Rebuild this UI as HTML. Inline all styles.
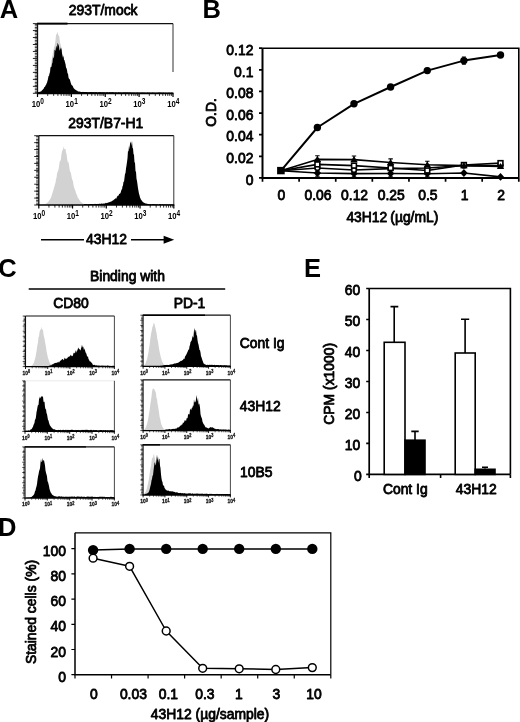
<!DOCTYPE html>
<html><head><meta charset="utf-8"><title>Figure</title>
<style>
html,body{margin:0;padding:0;background:#fff}
body{width:520px;height:722px;overflow:hidden}
svg{display:block;will-change:transform}
text{font-family:"Liberation Sans",sans-serif;fill:#000}
.t text{stroke:#000;stroke-width:0.8px;stroke-linejoin:round}
.b{font-weight:bold}
</style></head><body>
<svg width="520" height="722" viewBox="0 0 520 722">
<rect width="520" height="722" fill="#fff"/>

<g class="b">
<text x="-0.2" y="17.5" font-size="25.5" font-weight="bold">A</text>
<text x="202.4" y="17.5" font-size="25.5" font-weight="bold">B</text>
<text x="-1.7" y="276.8" font-size="25.5" font-weight="bold">C</text>
<text x="-1.9" y="535.8" font-size="25.5" font-weight="bold">D</text>
<text x="304.0" y="276.9" font-size="25.5" font-weight="bold">E</text>
</g>
<g class="t">
<text x="103.2" y="15.0" font-size="13.9" text-anchor="middle" font-weight="normal" >293T/mock</text>
<text x="105.8" y="128" font-size="13.9" text-anchor="middle" font-weight="normal" >293T/B7-H1</text>
<text x="106.5" y="244.3" font-size="13.9" text-anchor="middle" font-weight="normal" >43H12</text>
</g>
<path d="M41,239.7H84" stroke="#000" stroke-width="1.5"/>
<path d="M131,239.7H166" stroke="#000" stroke-width="1.5"/>
<path d="M174.2,239.7L163.6,235.7L163.6,243.7Z" fill="#000"/>
<path d="M38.0,93.3L38.0,93.1L38.5,93.0L39.0,92.9L39.5,92.8L40.0,92.6L40.5,92.5L41.0,92.3L41.5,91.9L42.0,91.7L42.5,91.2L43.0,90.8L43.5,90.2L44.0,89.4L44.5,88.4L45.0,87.8L45.5,86.7L46.0,85.1L46.5,83.4L47.0,82.1L47.5,80.6L48.0,77.8L48.5,77.2L49.0,73.5L49.5,72.2L50.0,70.1L50.5,67.6L51.0,64.4L51.5,60.1L52.0,59.4L52.5,55.2L53.0,52.2L53.5,50.5L54.0,47.0L54.5,46.5L55.0,43.7L55.5,40.2L56.0,35.0L56.5,34.3L57.0,33.7L57.5,31.8L58.0,33.4L58.5,35.9L59.0,35.2L59.5,38.2L60.0,43.0L60.5,43.8L61.0,46.4L61.5,47.3L62.0,50.4L62.5,54.7L63.0,54.6L63.5,60.3L64.0,61.8L64.5,63.4L65.0,67.6L65.5,69.2L66.0,72.6L66.5,73.5L67.0,75.5L67.5,77.9L68.0,79.3L68.5,81.8L69.0,82.9L69.5,84.4L70.0,85.7L70.5,86.9L71.0,87.7L71.5,88.5L72.0,89.5L72.5,90.1L73.0,90.8L73.5,91.1L74.0,91.5L74.5,91.8L75.0,92.1L75.5,92.4L76.0,92.6L76.5,92.7L77.0,92.9L77.5,93.0L78.0,93.0L78.5,93.1L79.0,93.1L79.5,93.2L80.0,93.2L80.5,93.2L81.0,93.2L81.5,93.3L82.0,93.3L82.5,93.3L83.0,93.3L83.5,93.3L84.0,93.3L84.0,93.3Z" fill="#d2d2d2"/>
<path d="M38.0,93.3L38.0,92.3L38.5,92.2L39.0,91.7L39.5,92.0L40.0,91.8L40.5,91.4L41.0,91.4L41.5,90.9L42.0,90.2L42.5,89.9L43.0,89.3L43.5,89.0L44.0,87.8L44.5,87.1L45.0,86.7L45.5,85.5L46.0,85.1L46.5,83.7L47.0,82.8L47.5,81.1L48.0,79.2L48.5,76.0L49.0,76.3L49.5,73.8L50.0,72.4L50.5,67.3L51.0,67.3L51.5,66.8L52.0,63.8L52.5,62.6L53.0,56.1L53.5,58.6L54.0,57.5L54.5,49.7L55.0,50.1L55.5,50.9L56.0,46.7L56.5,45.7L57.0,48.9L57.5,42.7L58.0,43.9L58.5,44.7L59.0,46.6L59.5,50.8L60.0,49.6L60.5,47.3L61.0,50.1L61.5,47.8L62.0,53.7L62.5,56.1L63.0,57.7L63.5,55.4L64.0,59.7L64.5,60.2L65.0,62.6L65.5,64.1L66.0,67.6L66.5,68.3L67.0,70.0L67.5,73.4L68.0,73.4L68.5,77.4L69.0,78.7L69.5,79.0L70.0,80.0L70.5,81.9L71.0,83.4L71.5,84.9L72.0,85.2L72.5,85.8L73.0,86.6L73.5,88.1L74.0,88.6L74.5,89.0L75.0,89.6L75.5,89.7L76.0,90.2L76.5,90.4L77.0,90.6L77.5,91.0L78.0,91.4L78.5,91.6L79.0,91.6L79.5,91.5L80.0,91.8L80.5,91.8L81.0,92.0L81.5,92.0L82.0,91.9L82.5,91.9L83.0,91.8L83.5,92.0L84.0,92.0L84.5,92.1L85.0,92.1L85.5,91.9L86.0,91.9L86.5,92.1L87.0,91.9L87.5,92.3L88.0,92.3L88.5,92.3L89.0,92.0L89.5,92.2L90.0,92.0L90.5,92.0L91.0,92.2L91.5,92.1L92.0,91.9L92.5,92.2L93.0,92.1L93.5,92.3L94.0,92.1L94.5,92.2L95.0,92.3L95.5,92.1L96.0,92.3L96.5,92.0L97.0,92.2L97.5,92.4L98.0,92.2L98.5,92.2L99.0,92.0L99.5,92.3L100.0,92.1L100.5,92.3L101.0,92.1L101.5,92.4L102.0,92.1L102.5,92.3L103.0,92.3L103.5,92.2L104.0,92.2L104.5,92.2L105.0,92.2L105.5,92.4L106.0,92.4L106.5,92.3L107.0,92.1L107.5,92.2L108.0,92.3L108.5,92.4L109.0,92.2L109.5,92.3L110.0,92.1L110.5,92.2L111.0,92.2L111.5,92.3L112.0,92.2L112.5,92.3L113.0,92.1L113.5,92.3L114.0,92.5L114.5,92.5L115.0,92.3L115.5,92.5L116.0,92.1L116.5,92.4L117.0,92.4L117.5,92.4L118.0,92.4L118.5,92.1L119.0,92.4L119.5,92.3L120.0,92.5L120.5,92.3L121.0,92.4L121.5,92.5L122.0,92.5L122.5,92.5L123.0,92.5L123.5,92.3L124.0,92.3L124.5,92.3L125.0,92.4L125.5,92.2L126.0,92.3L126.5,92.6L127.0,92.2L127.5,92.3L128.0,92.5L128.5,92.4L129.0,92.3L129.5,92.4L130.0,92.3L130.5,92.5L131.0,92.6L131.5,92.6L132.0,92.4L132.5,92.4L133.0,92.4L133.5,92.4L134.0,92.4L134.5,92.4L135.0,92.4L135.5,92.7L136.0,92.4L136.5,92.4L137.0,92.5L137.5,92.5L138.0,92.4L138.5,92.4L139.0,92.7L139.5,92.4L140.0,92.5L140.5,92.7L141.0,92.5L141.5,92.4L142.0,92.5L142.5,92.5L143.0,92.4L143.5,92.4L144.0,92.7L144.5,92.4L145.0,92.6L145.5,92.7L146.0,92.7L146.5,92.7L147.0,92.4L147.5,92.5L148.0,92.4L148.5,92.7L149.0,92.6L149.5,92.8L150.0,92.6L150.5,92.8L151.0,92.7L151.5,92.8L152.0,92.5L152.5,92.5L153.0,92.5L153.5,92.7L154.0,92.4L154.5,92.7L155.0,92.7L155.5,92.8L156.0,92.7L156.5,92.7L157.0,92.7L157.5,92.7L158.0,92.5L158.5,92.6L159.0,92.5L159.5,92.6L160.0,92.6L160.5,92.6L161.0,92.8L161.5,92.5L162.0,92.7L162.5,92.8L163.0,92.5L163.5,92.6L164.0,92.7L164.5,92.8L165.0,92.8L165.5,92.7L166.0,92.6L166.5,92.7L167.0,92.9L167.5,92.8L168.0,92.8L168.5,92.7L169.0,92.6L169.5,92.8L170.0,92.8L170.5,92.9L171.0,92.6L171.5,92.8L172.0,92.6L172.5,92.9L173.0,92.8L173.0,93.3Z" fill="#000"/>
<path d="M37.5,23.6H173" fill="none" stroke="#111" stroke-width="1.2"/>
<path d="M37.0,23.6H67.5" fill="none" stroke="#000" stroke-width="1.9"/>
<path d="M173,23.6V72" fill="none" stroke="#333" stroke-width="1.0"/>
<path d="M37.5,23.6V93.3" fill="none" stroke="#111" stroke-width="1.3"/>
<path d="M36.00,24.1V93.3" fill="none" stroke="#111" stroke-width="2.4" stroke-dasharray="0.7,0.75"/>
<path d="M32.9,93.30H37.5M32.9,86.33H37.5M32.9,79.36H37.5M32.9,72.39H37.5M32.9,65.42H37.5M32.9,58.45H37.5M32.9,51.48H37.5M32.9,44.51H37.5M32.9,37.54H37.5M32.9,30.57H37.5M32.9,23.60H37.5" stroke="#111" stroke-width="0.9" fill="none"/>
<path d="M36.9,93.3H173.5" fill="none" stroke="#000" stroke-width="1.7"/>
<path d="M47.70,93.3v2.6M53.66,93.3v2.6M57.89,93.3v2.6M61.18,93.3v2.6M63.86,93.3v2.6M66.13,93.3v2.6M68.09,93.3v2.6M69.82,93.3v2.6M81.57,93.3v2.6M87.54,93.3v2.6M91.77,93.3v2.6M95.05,93.3v2.6M97.73,93.3v2.6M100.00,93.3v2.6M101.97,93.3v2.6M103.70,93.3v2.6M115.45,93.3v2.6M121.41,93.3v2.6M125.64,93.3v2.6M128.93,93.3v2.6M131.61,93.3v2.6M133.88,93.3v2.6M135.84,93.3v2.6M137.57,93.3v2.6M149.32,93.3v2.6M155.29,93.3v2.6M159.52,93.3v2.6M162.80,93.3v2.6M165.48,93.3v2.6M167.75,93.3v2.6M169.72,93.3v2.6M171.45,93.3v2.6" stroke="#000" stroke-width="0.8" fill="none"/>
<path d="M37.50,93.3v3.6M71.38,93.3v3.6M105.25,93.3v3.6M139.12,93.3v3.6M173.00,93.3v3.6" stroke="#000" stroke-width="1.2" fill="none"/>
<text transform="translate(31.7,107.3) scale(0.8,1)" font-size="9.6" font-weight="bold">10<tspan dy="-3.0" font-size="8.2">0</tspan></text>
<text transform="translate(65.6,107.3) scale(0.8,1)" font-size="9.6" font-weight="bold">10<tspan dy="-3.0" font-size="8.2">1</tspan></text>
<text transform="translate(99.5,107.3) scale(0.8,1)" font-size="9.6" font-weight="bold">10<tspan dy="-3.0" font-size="8.2">2</tspan></text>
<text transform="translate(133.3,107.3) scale(0.8,1)" font-size="9.6" font-weight="bold">10<tspan dy="-3.0" font-size="8.2">3</tspan></text>
<text transform="translate(167.2,107.3) scale(0.8,1)" font-size="9.6" font-weight="bold">10<tspan dy="-3.0" font-size="8.2">4</tspan></text>
<path d="M42.0,205.0L42.0,204.8L42.5,204.7L43.0,204.6L43.5,204.5L44.0,204.5L44.5,204.3L45.0,204.1L45.5,203.9L46.0,203.7L46.5,203.3L47.0,203.1L47.5,202.6L48.0,202.0L48.5,201.4L49.0,200.7L49.5,199.9L50.0,199.4L50.5,198.6L51.0,197.5L51.5,196.0L52.0,194.5L52.5,192.7L53.0,191.3L53.5,189.7L54.0,187.6L54.5,186.2L55.0,183.9L55.5,182.9L56.0,178.9L56.5,178.1L57.0,173.7L57.5,172.2L58.0,171.0L58.5,169.4L59.0,166.7L59.5,163.0L60.0,160.5L60.5,160.9L61.0,158.8L61.5,154.2L62.0,151.4L62.5,150.2L63.0,149.3L63.5,146.1L64.0,149.4L64.5,148.6L65.0,149.3L65.5,148.7L66.0,152.7L66.5,153.8L67.0,157.9L67.5,161.0L68.0,162.8L68.5,161.8L69.0,164.9L69.5,168.4L70.0,171.5L70.5,171.9L71.0,173.5L71.5,176.4L72.0,179.0L72.5,180.0L73.0,181.5L73.5,185.0L74.0,187.2L74.5,188.4L75.0,189.9L75.5,191.1L76.0,193.2L76.5,193.9L77.0,195.3L77.5,196.7L78.0,197.9L78.5,198.4L79.0,199.6L79.5,200.1L80.0,201.1L80.5,201.6L81.0,202.0L81.5,202.6L82.0,202.8L82.5,203.3L83.0,203.6L83.5,203.8L84.0,204.0L84.5,204.2L85.0,204.3L85.5,204.5L86.0,204.6L86.5,204.7L87.0,204.7L87.5,204.8L88.0,204.8L88.0,205.0Z" fill="#d2d2d2"/>
<path d="M84.0,205.0L84.0,204.3L84.5,204.0L85.0,203.9L85.5,204.2L86.0,204.0L86.5,204.3L87.0,204.2L87.5,204.2L88.0,204.3L88.5,204.2L89.0,204.2L89.5,204.2L90.0,204.0L90.5,204.1L91.0,204.1L91.5,203.9L92.0,204.1L92.5,204.2L93.0,203.9L93.5,204.2L94.0,204.2L94.5,204.0L95.0,203.8L95.5,204.1L96.0,203.9L96.5,203.9L97.0,204.0L97.5,203.9L98.0,203.8L98.5,204.0L99.0,203.9L99.5,203.6L100.0,203.9L100.5,203.8L101.0,203.8L101.5,203.6L102.0,203.5L102.5,203.7L103.0,203.7L103.5,203.6L104.0,203.4L104.5,203.6L105.0,203.4L105.5,203.1L106.0,202.8L106.5,203.3L107.0,203.0L107.5,202.7L108.0,202.8L108.5,202.4L109.0,202.1L109.5,202.2L110.0,201.9L110.5,201.8L111.0,201.5L111.5,201.5L112.0,201.1L112.5,200.8L113.0,200.3L113.5,200.2L114.0,199.5L114.5,199.2L115.0,198.9L115.5,198.1L116.0,198.7L116.5,198.2L117.0,196.6L117.5,196.2L118.0,195.6L118.5,195.7L119.0,194.2L119.5,193.7L120.0,193.7L120.5,192.9L121.0,191.5L121.5,189.5L122.0,189.6L122.5,186.2L123.0,185.4L123.5,181.4L124.0,182.0L124.5,177.8L125.0,173.9L125.5,173.0L126.0,168.5L126.5,165.4L127.0,162.1L127.5,158.3L128.0,150.6L128.5,151.8L129.0,145.6L129.5,149.6L130.0,143.7L130.5,142.5L131.0,141.5L131.5,145.9L132.0,140.4L132.5,148.0L133.0,148.2L133.5,153.9L134.0,154.8L134.5,162.6L135.0,162.5L135.5,171.3L136.0,171.8L136.5,178.7L137.0,180.9L137.5,184.6L138.0,188.3L138.5,191.1L139.0,193.8L139.5,195.3L140.0,197.5L140.5,198.4L141.0,199.8L141.5,200.0L142.0,201.2L142.5,201.6L143.0,202.1L143.5,202.4L144.0,202.8L144.5,203.0L145.0,203.2L145.5,203.5L146.0,203.6L146.5,203.8L147.0,203.6L147.5,204.0L148.0,204.1L148.5,204.1L149.0,204.1L149.5,204.2L150.0,204.2L150.5,204.0L151.0,204.3L151.5,204.2L152.0,204.3L152.5,204.0L153.0,204.0L153.5,204.0L154.0,204.0L154.5,204.3L155.0,204.0L155.5,204.3L156.0,204.4L156.5,204.3L157.0,204.4L157.5,204.1L158.0,204.4L158.5,204.4L159.0,204.4L159.5,204.1L160.0,204.1L160.5,204.2L161.0,204.3L161.5,204.4L162.0,204.3L162.5,204.2L163.0,204.2L163.5,204.4L164.0,204.4L164.5,204.3L165.0,204.3L165.5,204.5L166.0,204.5L166.5,204.5L167.0,204.2L167.5,204.3L168.0,204.6L168.5,204.6L169.0,204.4L169.5,204.3L170.0,204.5L170.5,204.6L171.0,204.5L171.5,204.5L172.0,204.4L172.5,204.6L173.0,204.5L173.5,204.3L173.8,205.0Z" fill="#000"/>
<path d="M38.8,135.7H173.8" fill="none" stroke="#111" stroke-width="1.2"/>
<path d="M173.8,135.7V205" fill="none" stroke="#333" stroke-width="1.0"/>
<path d="M38.8,135.7V205" fill="none" stroke="#111" stroke-width="1.3"/>
<path d="M37.30,136.2V205" fill="none" stroke="#111" stroke-width="2.4" stroke-dasharray="0.7,0.75"/>
<path d="M34.2,205.00H38.8M34.2,198.07H38.8M34.2,191.14H38.8M34.2,184.21H38.8M34.2,177.28H38.8M34.2,170.35H38.8M34.2,163.42H38.8M34.2,156.49H38.8M34.2,149.56H38.8M34.2,142.63H38.8M34.2,135.70H38.8" stroke="#111" stroke-width="0.9" fill="none"/>
<path d="M38.199999999999996,205H174.3" fill="none" stroke="#000" stroke-width="1.7"/>
<path d="M48.96,205v2.6M54.90,205v2.6M59.12,205v2.6M62.39,205v2.6M65.06,205v2.6M67.32,205v2.6M69.28,205v2.6M71.01,205v2.6M82.71,205v2.6M88.65,205v2.6M92.87,205v2.6M96.14,205v2.6M98.81,205v2.6M101.07,205v2.6M103.03,205v2.6M104.76,205v2.6M116.46,205v2.6M122.40,205v2.6M126.62,205v2.6M129.89,205v2.6M132.56,205v2.6M134.82,205v2.6M136.78,205v2.6M138.51,205v2.6M150.21,205v2.6M156.15,205v2.6M160.37,205v2.6M163.64,205v2.6M166.31,205v2.6M168.57,205v2.6M170.53,205v2.6M172.26,205v2.6" stroke="#000" stroke-width="0.8" fill="none"/>
<path d="M38.80,205v3.6M72.55,205v3.6M106.30,205v3.6M140.05,205v3.6M173.80,205v3.6" stroke="#000" stroke-width="1.2" fill="none"/>
<text transform="translate(33.0,219.0) scale(0.8,1)" font-size="9.6" font-weight="bold">10<tspan dy="-3.0" font-size="8.2">0</tspan></text>
<text transform="translate(66.8,219.0) scale(0.8,1)" font-size="9.6" font-weight="bold">10<tspan dy="-3.0" font-size="8.2">1</tspan></text>
<text transform="translate(100.5,219.0) scale(0.8,1)" font-size="9.6" font-weight="bold">10<tspan dy="-3.0" font-size="8.2">2</tspan></text>
<text transform="translate(134.2,219.0) scale(0.8,1)" font-size="9.6" font-weight="bold">10<tspan dy="-3.0" font-size="8.2">3</tspan></text>
<text transform="translate(168.0,219.0) scale(0.8,1)" font-size="9.6" font-weight="bold">10<tspan dy="-3.0" font-size="8.2">4</tspan></text>
<g class="t">
<text x="127.5" y="280.6" font-size="13.9" text-anchor="middle" font-weight="normal" >Binding with</text>
<text x="71" y="307.9" font-size="13.9" text-anchor="middle" font-weight="normal" >CD80</text>
<text x="189.5" y="307.9" font-size="13.9" text-anchor="middle" font-weight="normal" >PD-1</text>
<text x="239.8" y="347.6" font-size="13.9" text-anchor="start" font-weight="normal" >Cont Ig</text>
<text x="239.8" y="411.0" font-size="13.9" text-anchor="start" font-weight="normal" >43H12</text>
<text x="240" y="477" font-size="13.9" text-anchor="start" font-weight="normal" >10B5</text>
</g>
<path d="M28.7,289H225.2" stroke="#000" stroke-width="1.4"/>
<path d="M30.0,366.6L30.0,366.4L30.5,366.3L31.0,366.1L31.5,365.8L32.0,365.4L32.5,364.9L33.0,364.3L33.5,363.4L34.0,362.4L34.5,360.6L35.0,358.8L35.5,356.9L36.0,354.0L36.5,351.5L37.0,347.5L37.5,344.5L38.0,342.2L38.5,337.1L39.0,336.6L39.5,332.3L40.0,330.5L40.5,329.6L41.0,329.5L41.5,326.6L42.0,330.1L42.5,329.2L43.0,329.6L43.5,334.5L44.0,336.8L44.5,338.4L45.0,341.7L45.5,344.5L46.0,347.1L46.5,351.1L47.0,353.5L47.5,355.8L48.0,358.1L48.5,359.2L49.0,360.9L49.5,362.2L50.0,363.5L50.5,364.1L51.0,364.8L51.5,365.3L52.0,365.7L52.0,366.6Z" fill="#d2d2d2"/>
<path d="M46.0,366.6L46.0,366.3L46.5,366.3L47.0,366.2L47.5,366.1L48.0,366.0L48.5,366.1L49.0,365.8L49.5,365.8L50.0,365.2L50.5,365.2L51.0,365.4L51.5,364.9L52.0,364.3L52.5,364.3L53.0,364.5L53.5,363.7L54.0,363.6L54.5,363.2L55.0,363.0L55.5,362.9L56.0,362.7L56.5,363.1L57.0,362.6L57.5,362.0L58.0,363.0L58.5,361.4L59.0,362.4L59.5,362.0L60.0,360.8L60.5,360.7L61.0,360.6L61.5,359.7L62.0,359.6L62.5,359.0L63.0,358.9L63.5,360.2L64.0,360.0L64.5,358.1L65.0,357.8L65.5,359.1L66.0,359.1L66.5,358.8L67.0,358.1L67.5,358.2L68.0,356.6L68.5,357.2L69.0,356.5L69.5,356.3L70.0,356.5L70.5,355.0L71.0,354.8L71.5,356.1L72.0,356.3L72.5,356.1L73.0,355.3L73.5,352.4L74.0,353.8L74.5,352.4L75.0,353.2L75.5,351.3L76.0,350.1L76.5,352.7L77.0,351.1L77.5,349.9L78.0,348.2L78.5,347.6L79.0,349.5L79.5,348.7L80.0,350.1L80.5,350.5L81.0,348.4L81.5,346.9L82.0,344.4L82.5,347.5L83.0,346.3L83.5,347.8L84.0,350.3L84.5,348.3L85.0,350.2L85.5,352.3L86.0,353.0L86.5,354.1L87.0,356.2L87.5,356.7L88.0,356.3L88.5,359.2L89.0,359.5L89.5,360.9L90.0,361.4L90.5,361.6L91.0,361.9L91.5,362.8L92.0,363.1L92.5,364.3L93.0,364.8L93.5,364.9L94.0,365.1L94.5,364.8L95.0,365.0L95.5,365.4L96.0,365.3L96.5,365.2L97.0,365.5L97.5,365.5L98.0,365.5L98.5,365.4L99.0,365.4L99.5,365.5L100.0,365.7L100.5,365.8L101.0,365.5L101.5,365.5L102.0,365.7L102.5,365.6L103.0,365.5L103.5,365.7L104.0,365.5L104.5,365.7L105.0,365.8L105.5,365.8L106.0,365.4L106.5,365.9L107.0,365.6L107.5,365.6L108.0,365.5L108.5,365.7L109.0,365.8L109.5,365.7L110.0,365.9L110.5,365.7L111.0,365.9L111.5,366.0L112.0,365.8L112.5,365.8L113.0,365.9L113.5,365.5L114.0,365.9L114.4,366.6Z" fill="#000"/>
<path d="M25.5,316H114.4" fill="none" stroke="#111" stroke-width="1.2"/>
<path d="M114.4,316V366.6" fill="none" stroke="#333" stroke-width="0.9"/>
<path d="M25.5,316V366.6" fill="none" stroke="#111" stroke-width="1.1"/>
<path d="M24.40,316.5V366.6" fill="none" stroke="#111" stroke-width="1.6" stroke-dasharray="0.6,0.7"/>
<path d="M22.7,366.60H25.5M22.7,361.54H25.5M22.7,356.48H25.5M22.7,351.42H25.5M22.7,346.36H25.5M22.7,341.30H25.5M22.7,336.24H25.5M22.7,331.18H25.5M22.7,326.12H25.5M22.7,321.06H25.5M22.7,316.00H25.5" stroke="#111" stroke-width="0.7" fill="none"/>
<path d="M24.9,366.6H114.9" fill="none" stroke="#000" stroke-width="1.3"/>
<path d="M32.19,366.6v1.7M36.10,366.6v1.7M38.88,366.6v1.7M41.03,366.6v1.7M42.79,366.6v1.7M44.28,366.6v1.7M45.57,366.6v1.7M46.71,366.6v1.7M54.42,366.6v1.7M58.33,366.6v1.7M61.11,366.6v1.7M63.26,366.6v1.7M65.02,366.6v1.7M66.51,366.6v1.7M67.80,366.6v1.7M68.93,366.6v1.7M76.64,366.6v1.7M80.55,366.6v1.7M83.33,366.6v1.7M85.48,366.6v1.7M87.24,366.6v1.7M88.73,366.6v1.7M90.02,366.6v1.7M91.16,366.6v1.7M98.87,366.6v1.7M102.78,366.6v1.7M105.56,366.6v1.7M107.71,366.6v1.7M109.47,366.6v1.7M110.96,366.6v1.7M112.25,366.6v1.7M113.38,366.6v1.7" stroke="#000" stroke-width="0.6" fill="none"/>
<path d="M25.50,366.6v2.4M47.73,366.6v2.4M69.95,366.6v2.4M92.18,366.6v2.4M114.40,366.6v2.4" stroke="#000" stroke-width="0.9" fill="none"/>
<text transform="translate(22.6,374.8) scale(0.8,1)" font-size="6.2" font-weight="bold" fill="#111" stroke="#111" stroke-width="0.25">10<tspan dy="-1.7" font-size="4.8">0</tspan></text>
<text transform="translate(44.8,374.8) scale(0.8,1)" font-size="6.2" font-weight="bold" fill="#111" stroke="#111" stroke-width="0.25">10<tspan dy="-1.7" font-size="4.8">1</tspan></text>
<text transform="translate(67.0,374.8) scale(0.8,1)" font-size="6.2" font-weight="bold" fill="#111" stroke="#111" stroke-width="0.25">10<tspan dy="-1.7" font-size="4.8">2</tspan></text>
<text transform="translate(89.3,374.8) scale(0.8,1)" font-size="6.2" font-weight="bold" fill="#111" stroke="#111" stroke-width="0.25">10<tspan dy="-1.7" font-size="4.8">3</tspan></text>
<text transform="translate(111.5,374.8) scale(0.8,1)" font-size="6.2" font-weight="bold" fill="#111" stroke="#111" stroke-width="0.25">10<tspan dy="-1.7" font-size="4.8">4</tspan></text>
<path d="M144.0,366.3L144.0,365.2L144.5,364.8L145.0,364.2L145.5,363.4L146.0,362.1L146.5,360.7L147.0,359.1L147.5,357.1L148.0,354.6L148.5,352.3L149.0,348.0L149.5,345.8L150.0,341.6L150.5,337.5L151.0,333.9L151.5,331.8L152.0,329.6L152.5,326.3L153.0,326.4L153.5,322.5L154.0,324.5L154.5,323.0L155.0,326.6L155.5,328.0L156.0,330.7L156.5,332.7L157.0,336.4L157.5,340.0L158.0,341.3L158.5,345.5L159.0,348.5L159.5,351.2L160.0,353.5L160.5,355.9L161.0,357.8L161.5,359.5L162.0,361.2L162.5,362.1L163.0,363.2L163.5,364.2L164.0,364.6L164.5,365.1L165.0,365.4L165.0,366.3Z" fill="#d2d2d2"/>
<path d="M160.0,366.3L160.0,365.7L160.5,366.1L161.0,365.6L161.5,366.0L162.0,365.8L162.5,365.4L163.0,365.6L163.5,365.2L164.0,365.2L164.5,365.1L165.0,365.0L165.5,364.9L166.0,365.0L166.5,364.9L167.0,364.8L167.5,365.0L168.0,365.1L168.5,365.0L169.0,364.9L169.5,364.7L170.0,364.4L170.5,364.5L171.0,364.4L171.5,364.2L172.0,364.4L172.5,364.3L173.0,364.0L173.5,364.1L174.0,363.6L174.5,363.6L175.0,363.6L175.5,363.5L176.0,363.2L176.5,363.1L177.0,363.2L177.5,362.8L178.0,363.1L178.5,362.6L179.0,362.1L179.5,361.7L180.0,361.8L180.5,361.1L181.0,360.8L181.5,361.0L182.0,360.6L182.5,359.9L183.0,360.3L183.5,358.6L184.0,359.3L184.5,358.8L185.0,356.4L185.5,356.1L186.0,355.0L186.5,354.3L187.0,353.0L187.5,352.0L188.0,350.7L188.5,349.3L189.0,350.1L189.5,346.2L190.0,345.0L190.5,342.0L191.0,341.5L191.5,340.8L192.0,338.9L192.5,335.4L193.0,337.8L193.5,336.9L194.0,330.2L194.5,328.0L195.0,333.1L195.5,330.4L196.0,329.7L196.5,335.3L197.0,335.5L197.5,340.0L198.0,342.9L198.5,344.6L199.0,347.2L199.5,349.9L200.0,350.2L200.5,352.6L201.0,356.3L201.5,357.3L202.0,359.1L202.5,360.4L203.0,361.8L203.5,363.2L204.0,363.8L204.5,364.1L205.0,364.4L205.5,364.5L206.0,364.7L206.5,365.1L207.0,364.9L207.5,364.8L208.0,364.8L208.5,364.9L209.0,364.9L209.5,364.8L210.0,364.7L210.5,365.1L211.0,364.8L211.5,364.8L212.0,365.0L212.5,364.8L213.0,365.1L213.5,364.9L214.0,365.0L214.5,364.8L215.0,365.1L215.5,365.3L216.0,365.1L216.5,364.9L217.0,365.0L217.5,364.9L218.0,365.2L218.5,365.0L219.0,364.9L219.5,365.4L220.0,365.0L220.5,365.1L221.0,365.3L221.5,365.1L222.0,365.4L222.5,365.2L223.0,365.3L223.5,365.2L224.0,365.4L224.5,365.1L225.0,365.3L225.5,365.3L226.0,365.5L226.5,365.3L227.0,365.3L227.5,365.4L228.0,365.7L228.5,365.4L229.0,365.4L229.5,365.6L230.0,365.5L230.4,366.3Z" fill="#000"/>
<path d="M143.1,315.2H230.4" fill="none" stroke="#111" stroke-width="1.2"/>
<path d="M142.6,315.2H205" fill="none" stroke="#000" stroke-width="1.4"/>
<path d="M230.4,315.2V366.3" fill="none" stroke="#333" stroke-width="0.9"/>
<path d="M143.1,315.2V366.3" fill="none" stroke="#111" stroke-width="1.1"/>
<path d="M142.00,315.7V366.3" fill="none" stroke="#111" stroke-width="1.6" stroke-dasharray="0.6,0.7"/>
<path d="M140.3,366.30H143.1M140.3,361.19H143.1M140.3,356.08H143.1M140.3,350.97H143.1M140.3,345.86H143.1M140.3,340.75H143.1M140.3,335.64H143.1M140.3,330.53H143.1M140.3,325.42H143.1M140.3,320.31H143.1M140.3,315.20H143.1" stroke="#111" stroke-width="0.7" fill="none"/>
<path d="M142.5,366.3H230.9" fill="none" stroke="#000" stroke-width="1.3"/>
<path d="M149.67,366.3v1.7M153.51,366.3v1.7M156.24,366.3v1.7M158.36,366.3v1.7M160.08,366.3v1.7M161.54,366.3v1.7M162.81,366.3v1.7M163.93,366.3v1.7M171.49,366.3v1.7M175.34,366.3v1.7M178.06,366.3v1.7M180.18,366.3v1.7M181.91,366.3v1.7M183.37,366.3v1.7M184.63,366.3v1.7M185.75,366.3v1.7M193.32,366.3v1.7M197.16,366.3v1.7M199.89,366.3v1.7M202.01,366.3v1.7M203.73,366.3v1.7M205.19,366.3v1.7M206.46,366.3v1.7M207.58,366.3v1.7M215.14,366.3v1.7M218.99,366.3v1.7M221.71,366.3v1.7M223.83,366.3v1.7M225.56,366.3v1.7M227.02,366.3v1.7M228.28,366.3v1.7M229.40,366.3v1.7" stroke="#000" stroke-width="0.6" fill="none"/>
<path d="M143.10,366.3v2.4M164.93,366.3v2.4M186.75,366.3v2.4M208.57,366.3v2.4M230.40,366.3v2.4" stroke="#000" stroke-width="0.9" fill="none"/>
<text transform="translate(140.2,374.5) scale(0.8,1)" font-size="6.2" font-weight="bold" fill="#111" stroke="#111" stroke-width="0.25">10<tspan dy="-1.7" font-size="4.8">0</tspan></text>
<text transform="translate(162.0,374.5) scale(0.8,1)" font-size="6.2" font-weight="bold" fill="#111" stroke="#111" stroke-width="0.25">10<tspan dy="-1.7" font-size="4.8">1</tspan></text>
<text transform="translate(183.8,374.5) scale(0.8,1)" font-size="6.2" font-weight="bold" fill="#111" stroke="#111" stroke-width="0.25">10<tspan dy="-1.7" font-size="4.8">2</tspan></text>
<text transform="translate(205.7,374.5) scale(0.8,1)" font-size="6.2" font-weight="bold" fill="#111" stroke="#111" stroke-width="0.25">10<tspan dy="-1.7" font-size="4.8">3</tspan></text>
<text transform="translate(227.5,374.5) scale(0.8,1)" font-size="6.2" font-weight="bold" fill="#111" stroke="#111" stroke-width="0.25">10<tspan dy="-1.7" font-size="4.8">4</tspan></text>
<path d="M25.5,431.4L25.5,431.1L26.0,430.5L26.5,430.8L27.0,430.9L27.5,430.8L28.0,430.5L28.5,430.3L29.0,430.8L29.5,430.6L30.0,430.5L30.5,429.6L31.0,429.2L31.5,429.2L32.0,428.4L32.5,427.5L33.0,426.8L33.5,425.1L34.0,423.9L34.5,422.7L35.0,419.5L35.5,419.2L36.0,416.7L36.5,412.2L37.0,410.1L37.5,407.1L38.0,404.7L38.5,405.3L39.0,399.3L39.5,398.0L40.0,396.6L40.5,398.4L41.0,397.1L41.5,395.7L42.0,397.5L42.5,395.9L43.0,396.8L43.5,401.5L44.0,402.3L44.5,401.5L45.0,407.1L45.5,409.2L46.0,409.2L46.5,412.9L47.0,414.2L47.5,417.0L48.0,419.9L48.5,420.5L49.0,422.7L49.5,424.2L50.0,425.5L50.5,425.9L51.0,427.1L51.5,427.4L52.0,428.0L52.5,428.5L53.0,429.0L53.5,429.3L54.0,429.6L54.5,429.2L55.0,429.3L55.5,429.9L56.0,430.0L56.5,429.9L57.0,430.0L57.5,429.9L58.0,430.2L58.5,429.8L59.0,430.0L59.5,430.0L60.0,430.1L60.5,429.8L61.0,430.1L61.5,430.2L62.0,429.9L62.5,430.1L63.0,429.8L63.5,429.8L64.0,430.2L64.5,429.9L65.0,430.1L65.5,430.0L66.0,429.6L66.5,430.2L67.0,429.9L67.5,430.0L68.0,429.8L68.5,430.1L69.0,429.9L69.5,430.0L70.0,429.9L70.5,429.9L71.0,429.7L71.5,429.8L72.0,429.8L72.5,429.8L73.0,429.9L73.5,429.9L74.0,430.2L74.5,430.0L75.0,430.2L75.5,429.8L76.0,430.3L76.5,430.1L77.0,430.0L77.5,429.9L78.0,430.2L78.5,429.8L79.0,430.3L79.5,430.0L80.0,430.2L80.5,430.2L81.0,429.8L81.5,430.0L82.0,430.2L82.5,429.7L83.0,430.1L83.5,429.9L84.0,429.8L84.5,430.1L85.0,430.2L85.5,429.7L86.0,429.7L86.5,429.8L87.0,430.1L87.5,429.7L88.0,430.1L88.5,430.1L89.0,430.3L89.5,430.1L90.0,430.3L90.5,429.8L91.0,429.9L91.5,429.8L92.0,430.3L92.5,430.2L93.0,430.2L93.5,429.8L94.0,430.2L94.5,430.1L95.0,430.2L95.5,430.0L96.0,430.1L96.5,430.0L97.0,430.2L97.5,430.3L98.0,430.4L98.5,430.2L99.0,430.3L99.5,430.2L100.0,430.0L100.5,430.1L101.0,430.1L101.5,430.1L102.0,430.2L102.5,430.3L103.0,430.2L103.5,430.1L104.0,430.3L104.5,430.3L105.0,430.2L105.5,429.9L106.0,430.1L106.5,430.5L107.0,430.2L107.5,430.3L108.0,430.1L108.5,430.4L109.0,430.0L109.5,430.4L110.0,430.2L110.5,430.0L111.0,430.2L111.5,430.1L112.0,430.3L112.5,430.1L113.0,430.5L113.5,430.5L114.0,430.2L114.4,431.4Z" fill="#000"/>
<path d="M25,380.8H114.4" fill="none" stroke="#ddd" stroke-width="0.6"/>
<path d="M114.4,380.8V431.4" fill="none" stroke="#333" stroke-width="0.9"/>
<path d="M25,380.8V431.4" fill="none" stroke="#111" stroke-width="1.1"/>
<path d="M23.90,381.3V431.4" fill="none" stroke="#111" stroke-width="1.6" stroke-dasharray="0.6,0.7"/>
<path d="M22.2,431.40H25M22.2,426.34H25M22.2,421.28H25M22.2,416.22H25M22.2,411.16H25M22.2,406.10H25M22.2,401.04H25M22.2,395.98H25M22.2,390.92H25M22.2,385.86H25M22.2,380.80H25" stroke="#111" stroke-width="0.7" fill="none"/>
<path d="M24.4,431.4H114.9" fill="none" stroke="#000" stroke-width="1.3"/>
<path d="M31.73,431.4v1.7M35.66,431.4v1.7M38.46,431.4v1.7M40.62,431.4v1.7M42.39,431.4v1.7M43.89,431.4v1.7M45.18,431.4v1.7M46.33,431.4v1.7M54.08,431.4v1.7M58.01,431.4v1.7M60.81,431.4v1.7M62.97,431.4v1.7M64.74,431.4v1.7M66.24,431.4v1.7M67.53,431.4v1.7M68.68,431.4v1.7M76.43,431.4v1.7M80.36,431.4v1.7M83.16,431.4v1.7M85.32,431.4v1.7M87.09,431.4v1.7M88.59,431.4v1.7M89.88,431.4v1.7M91.03,431.4v1.7M98.78,431.4v1.7M102.71,431.4v1.7M105.51,431.4v1.7M107.67,431.4v1.7M109.44,431.4v1.7M110.94,431.4v1.7M112.23,431.4v1.7M113.38,431.4v1.7" stroke="#000" stroke-width="0.6" fill="none"/>
<path d="M25.00,431.4v2.4M47.35,431.4v2.4M69.70,431.4v2.4M92.05,431.4v2.4M114.40,431.4v2.4" stroke="#000" stroke-width="0.9" fill="none"/>
<text transform="translate(22.1,439.6) scale(0.8,1)" font-size="6.2" font-weight="bold" fill="#111" stroke="#111" stroke-width="0.25">10<tspan dy="-1.7" font-size="4.8">0</tspan></text>
<text transform="translate(44.5,439.6) scale(0.8,1)" font-size="6.2" font-weight="bold" fill="#111" stroke="#111" stroke-width="0.25">10<tspan dy="-1.7" font-size="4.8">1</tspan></text>
<text transform="translate(66.8,439.6) scale(0.8,1)" font-size="6.2" font-weight="bold" fill="#111" stroke="#111" stroke-width="0.25">10<tspan dy="-1.7" font-size="4.8">2</tspan></text>
<text transform="translate(89.2,439.6) scale(0.8,1)" font-size="6.2" font-weight="bold" fill="#111" stroke="#111" stroke-width="0.25">10<tspan dy="-1.7" font-size="4.8">3</tspan></text>
<text transform="translate(111.5,439.6) scale(0.8,1)" font-size="6.2" font-weight="bold" fill="#111" stroke="#111" stroke-width="0.25">10<tspan dy="-1.7" font-size="4.8">4</tspan></text>
<path d="M144.0,430.6L144.0,429.8L144.5,429.3L145.0,428.8L145.5,428.0L146.0,426.9L146.5,425.6L147.0,424.0L147.5,422.2L148.0,419.8L148.5,417.1L149.0,413.5L149.5,410.9L150.0,407.1L150.5,403.0L151.0,399.9L151.5,396.7L152.0,392.0L152.5,389.3L153.0,388.9L153.5,388.2L154.0,389.2L154.5,389.3L155.0,391.2L155.5,391.4L156.0,393.8L156.5,398.3L157.0,398.7L157.5,403.8L158.0,405.8L158.5,409.2L159.0,412.2L159.5,416.3L160.0,418.6L160.5,420.4L161.0,423.2L161.5,424.8L162.0,425.9L162.5,427.0L163.0,427.8L163.5,428.6L164.0,429.2L164.5,429.6L165.0,429.9L165.0,430.6Z" fill="#d2d2d2"/>
<path d="M162.0,430.6L162.0,430.1L162.5,430.2L163.0,430.2L163.5,430.1L164.0,430.0L164.5,429.9L165.0,429.7L165.5,429.4L166.0,429.7L166.5,429.3L167.0,429.6L167.5,429.6L168.0,429.2L168.5,429.3L169.0,429.2L169.5,429.1L170.0,428.9L170.5,429.4L171.0,429.2L171.5,429.3L172.0,429.1L172.5,429.0L173.0,428.7L173.5,429.1L174.0,428.8L174.5,429.0L175.0,428.7L175.5,428.6L176.0,428.8L176.5,428.4L177.0,427.9L177.5,427.3L178.0,427.7L178.5,427.3L179.0,427.3L179.5,426.8L180.0,425.7L180.5,425.5L181.0,425.7L181.5,424.8L182.0,424.6L182.5,424.3L183.0,422.3L183.5,423.0L184.0,422.6L184.5,420.7L185.0,420.0L185.5,420.5L186.0,421.2L186.5,418.7L187.0,417.8L187.5,418.5L188.0,414.9L188.5,413.7L189.0,414.5L189.5,414.2L190.0,409.4L190.5,408.4L191.0,410.6L191.5,408.9L192.0,407.5L192.5,407.8L193.0,405.0L193.5,406.6L194.0,399.3L194.5,402.8L195.0,401.2L195.5,402.4L196.0,399.2L196.5,395.1L197.0,398.5L197.5,401.7L198.0,397.3L198.5,404.9L199.0,403.2L199.5,404.6L200.0,407.5L200.5,414.0L201.0,416.3L201.5,417.6L202.0,418.8L202.5,421.7L203.0,422.7L203.5,424.1L204.0,424.5L204.5,425.3L205.0,426.5L205.5,427.1L206.0,427.7L206.5,427.2L207.0,427.7L207.5,427.9L208.0,428.3L208.5,428.4L209.0,428.3L209.5,427.7L210.0,427.5L210.5,427.1L211.0,427.3L211.5,427.7L212.0,426.9L212.5,427.6L213.0,427.4L213.5,427.9L214.0,428.2L214.5,428.7L215.0,428.4L215.5,428.9L216.0,429.2L216.5,429.1L217.0,429.3L217.5,429.1L218.0,429.1L218.5,429.1L219.0,429.4L219.5,429.4L220.0,429.3L220.5,429.5L221.0,429.3L221.5,429.6L222.0,429.7L222.5,429.6L223.0,429.3L223.5,429.5L224.0,429.4L224.5,429.6L225.0,429.4L225.5,429.4L226.0,429.4L226.5,429.5L227.0,429.9L227.5,429.7L228.0,429.5L228.5,429.6L229.0,429.7L229.5,429.8L230.0,429.5L230.4,430.6Z" fill="#000"/>
<path d="M143.1,379.8H230.4" fill="none" stroke="#111" stroke-width="1.2"/>
<path d="M230.4,379.8V430.6" fill="none" stroke="#333" stroke-width="0.9"/>
<path d="M143.1,379.8V430.6" fill="none" stroke="#111" stroke-width="1.1"/>
<path d="M142.00,380.3V430.6" fill="none" stroke="#111" stroke-width="1.6" stroke-dasharray="0.6,0.7"/>
<path d="M140.3,430.60H143.1M140.3,425.52H143.1M140.3,420.44H143.1M140.3,415.36H143.1M140.3,410.28H143.1M140.3,405.20H143.1M140.3,400.12H143.1M140.3,395.04H143.1M140.3,389.96H143.1M140.3,384.88H143.1M140.3,379.80H143.1" stroke="#111" stroke-width="0.7" fill="none"/>
<path d="M142.5,430.6H230.9" fill="none" stroke="#000" stroke-width="1.3"/>
<path d="M149.67,430.6v1.7M153.51,430.6v1.7M156.24,430.6v1.7M158.36,430.6v1.7M160.08,430.6v1.7M161.54,430.6v1.7M162.81,430.6v1.7M163.93,430.6v1.7M171.49,430.6v1.7M175.34,430.6v1.7M178.06,430.6v1.7M180.18,430.6v1.7M181.91,430.6v1.7M183.37,430.6v1.7M184.63,430.6v1.7M185.75,430.6v1.7M193.32,430.6v1.7M197.16,430.6v1.7M199.89,430.6v1.7M202.01,430.6v1.7M203.73,430.6v1.7M205.19,430.6v1.7M206.46,430.6v1.7M207.58,430.6v1.7M215.14,430.6v1.7M218.99,430.6v1.7M221.71,430.6v1.7M223.83,430.6v1.7M225.56,430.6v1.7M227.02,430.6v1.7M228.28,430.6v1.7M229.40,430.6v1.7" stroke="#000" stroke-width="0.6" fill="none"/>
<path d="M143.10,430.6v2.4M164.93,430.6v2.4M186.75,430.6v2.4M208.57,430.6v2.4M230.40,430.6v2.4" stroke="#000" stroke-width="0.9" fill="none"/>
<text transform="translate(140.2,438.8) scale(0.8,1)" font-size="6.2" font-weight="bold" fill="#111" stroke="#111" stroke-width="0.25">10<tspan dy="-1.7" font-size="4.8">0</tspan></text>
<text transform="translate(162.0,438.8) scale(0.8,1)" font-size="6.2" font-weight="bold" fill="#111" stroke="#111" stroke-width="0.25">10<tspan dy="-1.7" font-size="4.8">1</tspan></text>
<text transform="translate(183.8,438.8) scale(0.8,1)" font-size="6.2" font-weight="bold" fill="#111" stroke="#111" stroke-width="0.25">10<tspan dy="-1.7" font-size="4.8">2</tspan></text>
<text transform="translate(205.7,438.8) scale(0.8,1)" font-size="6.2" font-weight="bold" fill="#111" stroke="#111" stroke-width="0.25">10<tspan dy="-1.7" font-size="4.8">3</tspan></text>
<text transform="translate(227.5,438.8) scale(0.8,1)" font-size="6.2" font-weight="bold" fill="#111" stroke="#111" stroke-width="0.25">10<tspan dy="-1.7" font-size="4.8">4</tspan></text>
<path d="M25.5,498.1L25.5,497.5L26.0,497.8L26.5,497.6L27.0,497.6L27.5,497.4L28.0,497.6L28.5,497.5L29.0,497.2L29.5,497.5L30.0,497.5L30.5,497.3L31.0,497.0L31.5,497.0L32.0,496.4L32.5,495.9L33.0,495.7L33.5,495.0L34.0,494.4L34.5,493.2L35.0,491.3L35.5,490.4L36.0,488.0L36.5,486.5L37.0,483.9L37.5,479.9L38.0,476.5L38.5,474.5L39.0,471.6L39.5,470.0L40.0,468.2L40.5,462.7L41.0,459.1L41.5,462.0L42.0,462.1L42.5,457.7L43.0,461.4L43.5,460.0L44.0,460.3L44.5,462.7L45.0,465.6L45.5,470.5L46.0,472.7L46.5,474.5L47.0,476.4L47.5,481.3L48.0,482.0L48.5,484.1L49.0,486.1L49.5,488.9L50.0,490.4L50.5,491.9L51.0,493.0L51.5,493.6L52.0,494.6L52.5,494.9L53.0,495.3L53.5,495.4L54.0,496.1L54.5,496.1L55.0,496.4L55.5,496.3L56.0,496.2L56.5,496.7L57.0,496.5L57.5,496.8L58.0,496.8L58.5,496.3L59.0,496.3L59.5,496.2L60.0,496.4L60.5,496.6L61.0,496.7L61.5,496.3L62.0,496.5L62.5,496.7L63.0,496.8L63.5,496.6L64.0,496.9L64.5,496.7L65.0,496.7L65.5,496.6L66.0,496.9L66.5,496.4L67.0,496.8L67.5,496.7L68.0,496.7L68.5,496.7L69.0,496.8L69.5,496.8L70.0,496.6L70.5,496.8L71.0,496.7L71.5,496.6L72.0,496.5L72.5,496.4L73.0,496.8L73.5,496.7L74.0,496.4L74.5,496.5L75.0,496.5L75.5,496.9L76.0,497.0L76.5,496.8L77.0,496.6L77.5,496.4L78.0,496.4L78.5,496.4L79.0,496.8L79.5,496.7L80.0,496.5L80.5,496.9L81.0,496.6L81.5,496.5L82.0,496.7L82.5,496.7L83.0,496.9L83.5,496.5L84.0,496.9L84.5,496.5L85.0,496.9L85.5,497.0L86.0,496.9L86.5,496.8L87.0,496.8L87.5,496.6L88.0,496.6L88.5,496.4L89.0,496.9L89.5,496.8L90.0,496.5L90.5,497.0L91.0,496.6L91.5,496.8L92.0,496.6L92.5,496.6L93.0,497.0L93.5,497.0L94.0,496.7L94.5,497.1L95.0,496.8L95.5,496.9L96.0,497.1L96.5,496.9L97.0,496.9L97.5,497.0L98.0,496.8L98.5,497.0L99.0,497.0L99.5,496.8L100.0,496.5L100.5,496.9L101.0,496.6L101.5,496.7L102.0,496.9L102.5,496.7L103.0,496.6L103.5,497.0L104.0,496.7L104.5,496.8L105.0,496.9L105.5,497.2L106.0,497.0L106.5,496.9L107.0,497.1L107.5,497.0L108.0,497.3L108.5,496.9L109.0,496.9L109.5,497.2L110.0,497.1L110.5,496.8L111.0,496.7L111.5,496.7L112.0,497.2L112.5,497.0L113.0,497.0L113.5,497.0L114.0,497.2L114.4,498.1Z" fill="#000"/>
<path d="M25,446.9H114.4" fill="none" stroke="#111" stroke-width="1.2"/>
<path d="M24.5,446.9H86" fill="none" stroke="#000" stroke-width="1.4"/>
<path d="M114.4,446.9V498.1" fill="none" stroke="#333" stroke-width="0.9"/>
<path d="M25,446.9V498.1" fill="none" stroke="#111" stroke-width="1.1"/>
<path d="M23.90,447.4V498.1" fill="none" stroke="#111" stroke-width="1.6" stroke-dasharray="0.6,0.7"/>
<path d="M22.2,498.10H25M22.2,492.98H25M22.2,487.86H25M22.2,482.74H25M22.2,477.62H25M22.2,472.50H25M22.2,467.38H25M22.2,462.26H25M22.2,457.14H25M22.2,452.02H25M22.2,446.90H25" stroke="#111" stroke-width="0.7" fill="none"/>
<path d="M24.4,498.1H114.9" fill="none" stroke="#000" stroke-width="1.3"/>
<path d="M31.73,498.1v1.7M35.66,498.1v1.7M38.46,498.1v1.7M40.62,498.1v1.7M42.39,498.1v1.7M43.89,498.1v1.7M45.18,498.1v1.7M46.33,498.1v1.7M54.08,498.1v1.7M58.01,498.1v1.7M60.81,498.1v1.7M62.97,498.1v1.7M64.74,498.1v1.7M66.24,498.1v1.7M67.53,498.1v1.7M68.68,498.1v1.7M76.43,498.1v1.7M80.36,498.1v1.7M83.16,498.1v1.7M85.32,498.1v1.7M87.09,498.1v1.7M88.59,498.1v1.7M89.88,498.1v1.7M91.03,498.1v1.7M98.78,498.1v1.7M102.71,498.1v1.7M105.51,498.1v1.7M107.67,498.1v1.7M109.44,498.1v1.7M110.94,498.1v1.7M112.23,498.1v1.7M113.38,498.1v1.7" stroke="#000" stroke-width="0.6" fill="none"/>
<path d="M25.00,498.1v2.4M47.35,498.1v2.4M69.70,498.1v2.4M92.05,498.1v2.4M114.40,498.1v2.4" stroke="#000" stroke-width="0.9" fill="none"/>
<text transform="translate(22.1,506.3) scale(0.8,1)" font-size="6.2" font-weight="bold" fill="#111" stroke="#111" stroke-width="0.25">10<tspan dy="-1.7" font-size="4.8">0</tspan></text>
<text transform="translate(44.5,506.3) scale(0.8,1)" font-size="6.2" font-weight="bold" fill="#111" stroke="#111" stroke-width="0.25">10<tspan dy="-1.7" font-size="4.8">1</tspan></text>
<text transform="translate(66.8,506.3) scale(0.8,1)" font-size="6.2" font-weight="bold" fill="#111" stroke="#111" stroke-width="0.25">10<tspan dy="-1.7" font-size="4.8">2</tspan></text>
<text transform="translate(89.2,506.3) scale(0.8,1)" font-size="6.2" font-weight="bold" fill="#111" stroke="#111" stroke-width="0.25">10<tspan dy="-1.7" font-size="4.8">3</tspan></text>
<text transform="translate(111.5,506.3) scale(0.8,1)" font-size="6.2" font-weight="bold" fill="#111" stroke="#111" stroke-width="0.25">10<tspan dy="-1.7" font-size="4.8">4</tspan></text>
<path d="M144.0,495.0L144.0,493.8L144.5,493.3L145.0,492.7L145.5,491.9L146.0,490.9L146.5,489.6L147.0,487.9L147.5,485.6L148.0,483.8L148.5,481.0L149.0,478.5L149.5,474.7L150.0,470.9L150.5,468.1L151.0,466.3L151.5,461.8L152.0,458.4L152.5,457.6L153.0,458.1L153.5,454.5L154.0,454.2L154.5,456.9L155.0,459.0L155.5,460.7L156.0,461.9L156.5,463.7L157.0,467.5L157.5,470.1L158.0,474.9L158.5,477.7L159.0,480.0L159.5,482.8L160.0,485.4L160.5,487.2L161.0,489.2L161.5,490.7L162.0,491.6L162.5,492.6L163.0,493.2L163.5,493.8L164.0,494.1L164.5,494.4L165.0,494.6L165.5,494.7L166.0,494.8L166.0,495.0Z" fill="#d2d2d2"/>
<path d="M145.0,495.0L145.0,494.0L145.5,494.0L146.0,493.5L146.5,493.7L147.0,493.5L147.5,493.2L148.0,492.8L148.5,492.6L149.0,491.5L149.5,489.9L150.0,487.9L150.5,485.8L151.0,484.0L151.5,480.6L152.0,479.1L152.5,475.7L153.0,475.3L153.5,470.8L154.0,466.8L154.5,462.9L155.0,462.2L155.5,465.5L156.0,464.0L156.5,459.0L157.0,454.4L157.5,460.4L158.0,456.2L158.5,462.9L159.0,459.1L159.5,458.8L160.0,465.4L160.5,468.2L161.0,474.4L161.5,478.4L162.0,480.9L162.5,482.1L163.0,485.6L163.5,485.5L164.0,485.4L164.5,487.9L165.0,488.6L165.5,489.6L166.0,489.7L166.5,490.2L167.0,490.6L167.5,490.7L168.0,490.5L168.5,490.5L169.0,491.3L169.5,490.9L170.0,491.4L170.5,491.2L171.0,491.0L171.5,491.4L172.0,491.4L172.5,491.4L173.0,491.0L173.5,492.0L174.0,491.8L174.5,492.0L175.0,492.1L175.5,492.5L176.0,492.4L176.5,492.3L177.0,492.2L177.5,492.6L178.0,492.7L178.5,492.9L179.0,493.0L179.5,493.1L180.0,492.9L180.5,492.8L181.0,493.2L181.5,493.2L182.0,493.1L182.5,493.1L183.0,493.4L183.5,493.3L184.0,493.2L184.5,493.2L185.0,493.1L185.5,493.6L186.0,493.7L186.5,493.5L187.0,493.4L187.5,493.7L188.0,493.3L188.5,493.4L189.0,493.2L189.5,493.3L190.0,493.6L190.5,493.3L191.0,493.6L191.5,493.7L192.0,493.7L192.5,493.3L193.0,493.6L193.5,493.7L194.0,493.9L194.5,493.4L195.0,493.8L195.5,493.7L196.0,493.6L196.5,493.5L197.0,493.7L197.5,493.6L198.0,493.4L198.5,493.7L199.0,493.7L199.5,493.7L200.0,493.7L200.5,493.8L201.0,493.7L201.5,493.8L202.0,493.6L202.5,493.7L203.0,493.8L203.5,494.0L204.0,493.7L204.5,493.8L205.0,493.9L205.5,493.7L206.0,493.8L206.5,493.6L207.0,494.0L207.5,493.7L208.0,494.0L208.5,494.0L209.0,494.0L209.5,493.8L210.0,494.1L210.5,493.7L211.0,493.9L211.5,493.8L212.0,494.0L212.5,494.0L213.0,494.0L213.5,494.0L214.0,494.2L214.5,493.9L215.0,494.2L215.5,494.0L216.0,494.1L216.5,494.1L217.0,493.8L217.5,494.1L218.0,493.9L218.5,494.2L219.0,494.1L219.5,494.1L220.0,494.0L220.5,494.1L221.0,494.0L221.5,494.1L222.0,493.9L222.5,494.0L223.0,494.3L223.5,494.1L224.0,494.1L224.5,493.9L225.0,494.1L225.5,494.1L226.0,494.1L226.5,493.9L227.0,494.1L227.5,493.9L228.0,494.0L228.5,494.4L229.0,494.1L229.5,494.0L230.0,494.3L230.4,495.0Z" fill="#000"/>
<path d="M143.1,444.8H230.4" fill="none" stroke="#111" stroke-width="1.2"/>
<path d="M142.6,444.8H160" fill="none" stroke="#000" stroke-width="1.4"/>
<path d="M230.4,444.8V495" fill="none" stroke="#333" stroke-width="0.9"/>
<path d="M143.1,444.8V495" fill="none" stroke="#111" stroke-width="1.1"/>
<path d="M142.00,445.3V495" fill="none" stroke="#111" stroke-width="1.6" stroke-dasharray="0.6,0.7"/>
<path d="M140.3,495.00H143.1M140.3,489.98H143.1M140.3,484.96H143.1M140.3,479.94H143.1M140.3,474.92H143.1M140.3,469.90H143.1M140.3,464.88H143.1M140.3,459.86H143.1M140.3,454.84H143.1M140.3,449.82H143.1M140.3,444.80H143.1" stroke="#111" stroke-width="0.7" fill="none"/>
<path d="M142.5,495H230.9" fill="none" stroke="#000" stroke-width="1.3"/>
<path d="M149.67,495v1.7M153.51,495v1.7M156.24,495v1.7M158.36,495v1.7M160.08,495v1.7M161.54,495v1.7M162.81,495v1.7M163.93,495v1.7M171.49,495v1.7M175.34,495v1.7M178.06,495v1.7M180.18,495v1.7M181.91,495v1.7M183.37,495v1.7M184.63,495v1.7M185.75,495v1.7M193.32,495v1.7M197.16,495v1.7M199.89,495v1.7M202.01,495v1.7M203.73,495v1.7M205.19,495v1.7M206.46,495v1.7M207.58,495v1.7M215.14,495v1.7M218.99,495v1.7M221.71,495v1.7M223.83,495v1.7M225.56,495v1.7M227.02,495v1.7M228.28,495v1.7M229.40,495v1.7" stroke="#000" stroke-width="0.6" fill="none"/>
<path d="M143.10,495v2.4M164.93,495v2.4M186.75,495v2.4M208.57,495v2.4M230.40,495v2.4" stroke="#000" stroke-width="0.9" fill="none"/>
<text transform="translate(140.2,503.2) scale(0.8,1)" font-size="6.2" font-weight="bold" fill="#111" stroke="#111" stroke-width="0.25">10<tspan dy="-1.7" font-size="4.8">0</tspan></text>
<text transform="translate(162.0,503.2) scale(0.8,1)" font-size="6.2" font-weight="bold" fill="#111" stroke="#111" stroke-width="0.25">10<tspan dy="-1.7" font-size="4.8">1</tspan></text>
<text transform="translate(183.8,503.2) scale(0.8,1)" font-size="6.2" font-weight="bold" fill="#111" stroke="#111" stroke-width="0.25">10<tspan dy="-1.7" font-size="4.8">2</tspan></text>
<text transform="translate(205.7,503.2) scale(0.8,1)" font-size="6.2" font-weight="bold" fill="#111" stroke="#111" stroke-width="0.25">10<tspan dy="-1.7" font-size="4.8">3</tspan></text>
<text transform="translate(227.5,503.2) scale(0.8,1)" font-size="6.2" font-weight="bold" fill="#111" stroke="#111" stroke-width="0.25">10<tspan dy="-1.7" font-size="4.8">4</tspan></text>
<path d="M262.5,48.2H518.8V177.9" fill="none" stroke="#000" stroke-width="1.6"/>
<path d="M262.5,48.2V177.9H518.8" fill="none" stroke="#000" stroke-width="2.0"/>
<path d="M259.0,48.20H262.5M259.0,69.82H262.5M259.0,91.43H262.5M259.0,113.05H262.5M259.0,134.67H262.5M259.0,156.28H262.5M259.0,177.90H262.5M262.50,177.9v3.8M299.11,177.9v3.8M335.73,177.9v3.8M372.34,177.9v3.8M408.96,177.9v3.8M445.57,177.9v3.8M482.19,177.9v3.8M518.80,177.9v3.8" stroke="#000" stroke-width="1.7" fill="none"/>
<g class="t">
<text x="253.4" y="54.9" font-size="13.9" text-anchor="end" font-weight="normal" >0.12</text>
<text x="253.4" y="76.5" font-size="13.9" text-anchor="end" font-weight="normal" >0.1</text>
<text x="253.4" y="98.1" font-size="13.9" text-anchor="end" font-weight="normal" >0.08</text>
<text x="253.4" y="119.8" font-size="13.9" text-anchor="end" font-weight="normal" >0.06</text>
<text x="253.4" y="141.4" font-size="13.9" text-anchor="end" font-weight="normal" >0.04</text>
<text x="253.4" y="163.0" font-size="13.9" text-anchor="end" font-weight="normal" >0.02</text>
<text x="253.4" y="184.6" font-size="13.9" text-anchor="end" font-weight="normal" >0</text>
<text x="281.4" y="200.2" font-size="13.9" text-anchor="middle" font-weight="normal" >0</text>
<text x="318.0" y="200.2" font-size="13.9" text-anchor="middle" font-weight="normal" >0.06</text>
<text x="354.6" y="200.2" font-size="13.9" text-anchor="middle" font-weight="normal" >0.12</text>
<text x="391.2" y="200.2" font-size="13.9" text-anchor="middle" font-weight="normal" >0.25</text>
<text x="427.9" y="200.2" font-size="13.9" text-anchor="middle" font-weight="normal" >0.5</text>
<text x="464.5" y="200.2" font-size="13.9" text-anchor="middle" font-weight="normal" >1</text>
<text x="501.1" y="200.2" font-size="13.9" text-anchor="middle" font-weight="normal" >2</text>
<text x="346.4" y="221.9" font-size="13.9" text-anchor="start" font-weight="normal" >43H12</text>
<text x="438.4" y="221.9" font-size="13.9" text-anchor="end" font-weight="normal" >(µg/mL)</text>
<text transform="translate(216.2,112.5) rotate(-90)" font-size="13.9" text-anchor="middle">O.D.</text>
</g>
<path d="M280.8,170.8L317.4,159.4L354.0,159.6L390.6,162.5L427.3,164.8L463.9,165.6L500.5,166.5" fill="none" stroke="#000" stroke-width="1.6" stroke-linejoin="round"/>
<path d="M280.8,170.8L317.4,164.4L354.0,165.6L390.6,168.0L427.3,170.5L463.9,165.0L500.5,163.1" fill="none" stroke="#000" stroke-width="1.6" stroke-linejoin="round"/>
<path d="M280.8,170.8L317.4,168.0L354.0,170.0L390.6,168.6L427.3,168.0L463.9,165.5L500.5,165.8" fill="none" stroke="#000" stroke-width="1.6" stroke-linejoin="round"/>
<path d="M280.8,170.8L317.4,173.0L354.0,173.6L390.6,173.5L427.3,173.7L463.9,173.0L500.5,176.9" fill="none" stroke="#000" stroke-width="1.6" stroke-linejoin="round"/>
<path d="M317.4,155.8V159.4M315.2,155.8h4.4M315.2,159.4h4.4" stroke="#000" stroke-width="1.1" fill="none"/>
<path d="M317.4,173.0V176.2M315.2,173.0h4.4M315.2,176.2h4.4" stroke="#000" stroke-width="1.1" fill="none"/>
<path d="M354.0,156.0V159.6M351.8,156.0h4.4M351.8,159.6h4.4" stroke="#000" stroke-width="1.1" fill="none"/>
<path d="M354.0,173.6V176.8M351.8,173.6h4.4M351.8,176.8h4.4" stroke="#000" stroke-width="1.1" fill="none"/>
<path d="M390.6,158.9V162.5M388.4,158.9h4.4M388.4,162.5h4.4" stroke="#000" stroke-width="1.1" fill="none"/>
<path d="M390.6,173.5V176.7M388.4,173.5h4.4M388.4,176.7h4.4" stroke="#000" stroke-width="1.1" fill="none"/>
<path d="M427.3,161.2V164.8M425.1,161.2h4.4M425.1,164.8h4.4" stroke="#000" stroke-width="1.1" fill="none"/>
<path d="M427.3,173.7V176.9M425.1,173.7h4.4M425.1,176.9h4.4" stroke="#000" stroke-width="1.1" fill="none"/>
<path d="M317.4,169.1l3.7,3.9l-3.7,3.9l-3.7,-3.9z" fill="#000"/>
<circle cx="317.4" cy="168.0" r="2.4" fill="#fff" stroke="#000" stroke-width="1.6"/>
<rect x="315.0" y="162.0" width="4.8" height="4.8" fill="#fff" stroke="#000" stroke-width="1.6"/>
<path d="M317.4,155.8l3.7,6.2h-7.4z" fill="#000"/>
<path d="M354.0,169.7l3.7,3.9l-3.7,3.9l-3.7,-3.9z" fill="#000"/>
<circle cx="354.0" cy="170.0" r="2.4" fill="#fff" stroke="#000" stroke-width="1.6"/>
<rect x="351.6" y="163.2" width="4.8" height="4.8" fill="#fff" stroke="#000" stroke-width="1.6"/>
<path d="M354.0,156.0l3.7,6.2h-7.4z" fill="#000"/>
<path d="M390.6,169.6l3.7,3.9l-3.7,3.9l-3.7,-3.9z" fill="#000"/>
<circle cx="390.6" cy="168.6" r="2.4" fill="#fff" stroke="#000" stroke-width="1.6"/>
<rect x="388.2" y="165.6" width="4.8" height="4.8" fill="#fff" stroke="#000" stroke-width="1.6"/>
<path d="M390.6,158.9l3.7,6.2h-7.4z" fill="#000"/>
<path d="M427.3,169.8l3.7,3.9l-3.7,3.9l-3.7,-3.9z" fill="#000"/>
<circle cx="427.3" cy="168.0" r="2.4" fill="#fff" stroke="#000" stroke-width="1.6"/>
<rect x="424.9" y="168.1" width="4.8" height="4.8" fill="#fff" stroke="#000" stroke-width="1.6"/>
<path d="M427.3,161.2l3.7,6.2h-7.4z" fill="#000"/>
<path d="M463.9,169.1l3.7,3.9l-3.7,3.9l-3.7,-3.9z" fill="#000"/>
<circle cx="463.9" cy="165.5" r="2.4" fill="#fff" stroke="#000" stroke-width="1.6"/>
<rect x="461.5" y="162.6" width="4.8" height="4.8" fill="#fff" stroke="#000" stroke-width="1.6"/>
<path d="M463.9,162.0l3.7,6.2h-7.4z" fill="#000"/>
<path d="M500.5,173.0l3.7,3.9l-3.7,3.9l-3.7,-3.9z" fill="#000"/>
<circle cx="500.5" cy="165.8" r="2.4" fill="#fff" stroke="#000" stroke-width="1.6"/>
<rect x="498.1" y="160.7" width="4.8" height="4.8" fill="#fff" stroke="#000" stroke-width="1.6"/>
<path d="M500.5,162.9l3.7,6.2h-7.4z" fill="#000"/>
<rect x="277.1" y="166.9" width="7.6" height="7.4" fill="#000"/>
<path d="M280.8,170.8L317.4,127.5L354.0,103.8L390.6,87.0L427.3,70.6L463.9,60.6L500.5,55.0" fill="none" stroke="#000" stroke-width="2.0" stroke-linejoin="round"/>
<path d="M427.3,68.4V72.8M425.5,68.4h3.6M425.5,72.8h3.6" stroke="#000" stroke-width="1.1" fill="none"/>
<path d="M463.9,57.0V64.2M461.9,57.0h4.0M461.9,64.2h4.0" stroke="#000" stroke-width="1.1" fill="none"/>
<circle cx="317.4" cy="127.5" r="3.7" fill="#000"/>
<circle cx="354.0" cy="103.8" r="3.7" fill="#000"/>
<circle cx="390.6" cy="87.0" r="3.7" fill="#000"/>
<circle cx="427.3" cy="70.6" r="3.7" fill="#000"/>
<circle cx="463.9" cy="60.6" r="3.7" fill="#000"/>
<circle cx="500.5" cy="55.0" r="3.7" fill="#000"/>
<path d="M369.2,288.5H510.4V474.4" fill="none" stroke="#000" stroke-width="1.6"/>
<path d="M369.2,288.5V474.4H510.4" fill="none" stroke="#000" stroke-width="1.7"/>
<path d="M366.2,474.40H369.2M366.2,443.42H369.2M366.2,412.43H369.2M366.2,381.45H369.2M366.2,350.47H369.2M366.2,319.48H369.2M366.2,288.50H369.2M369.20,474.4v3.6M440.60,474.4v3.6M510.40,474.4v3.6" stroke="#000" stroke-width="1.6" fill="none"/>
<g class="t">
<text x="361.7" y="481.1" font-size="13.9" text-anchor="end" font-weight="normal" >0</text>
<text x="360.2" y="450.1" font-size="13.9" text-anchor="end" font-weight="normal" >10</text>
<text x="360.2" y="419.1" font-size="13.9" text-anchor="end" font-weight="normal" >20</text>
<text x="360.2" y="388.1" font-size="13.9" text-anchor="end" font-weight="normal" >30</text>
<text x="360.2" y="357.2" font-size="13.9" text-anchor="end" font-weight="normal" >40</text>
<text x="360.2" y="326.2" font-size="13.9" text-anchor="end" font-weight="normal" >50</text>
<text x="360.2" y="295.2" font-size="13.9" text-anchor="end" font-weight="normal" >60</text>
<text x="405.3" y="494.0" font-size="13.9" text-anchor="middle" font-weight="normal" >Cont Ig</text>
<text x="476.3" y="494.0" font-size="13.9" text-anchor="middle" font-weight="normal" >43H12</text>
<text transform="translate(333.8,383.8) rotate(-90)" font-size="13.9" text-anchor="middle">CPM (x1000)</text>
</g>
<path d="M394.2,342V306.6M390.5,306.6h7.8" stroke="#000" stroke-width="1.6" fill="none"/>
<path d="M465.1,353V319.2M461,319.2h8.2" stroke="#000" stroke-width="1.6" fill="none"/>
<path d="M415,440V431.4M411.3,431.4h7.4" stroke="#000" stroke-width="1.6" fill="none"/>
<path d="M485,468.5V467.2M482,467.2h6" stroke="#000" stroke-width="1.6" fill="none"/>
<rect x="384.2" y="342.3" width="20.80000000000001" height="132.09999999999997" fill="#fff" stroke="#000" stroke-width="1.6"/>
<rect x="405" y="440.2" width="20" height="34.19999999999999" fill="#000" stroke="#000" stroke-width="1.6"/>
<rect x="455.2" y="353" width="20.0" height="121.39999999999998" fill="#fff" stroke="#000" stroke-width="1.6"/>
<rect x="475.2" y="469.3" width="19.80000000000001" height="5.099999999999966" fill="#000" stroke="#000" stroke-width="1.6"/>
<path d="M75,532.8H330.8V674.7" fill="none" stroke="#000" stroke-width="1.2"/>
<path d="M75,532.8V674.7H330.8" fill="none" stroke="#000" stroke-width="1.5"/>
<path d="M71.4,674.70H75M71.4,649.50H75M71.4,624.30H75M71.4,599.10H75M71.4,573.90H75M71.4,548.70H75M75.00,674.7v3.8M111.54,674.7v3.8M148.09,674.7v3.8M184.63,674.7v3.8M221.17,674.7v3.8M257.71,674.7v3.8M294.26,674.7v3.8M330.80,674.7v3.8" stroke="#000" stroke-width="1.2" fill="none"/>
<g class="t">
<text x="65.9" y="681.7" font-size="13.9" text-anchor="end" font-weight="normal" >0</text>
<text x="65.9" y="656.5" font-size="13.9" text-anchor="end" font-weight="normal" >20</text>
<text x="65.9" y="631.3" font-size="13.9" text-anchor="end" font-weight="normal" >40</text>
<text x="65.9" y="606.1" font-size="13.9" text-anchor="end" font-weight="normal" >60</text>
<text x="65.9" y="580.9" font-size="13.9" text-anchor="end" font-weight="normal" >80</text>
<text x="65.9" y="555.7" font-size="13.9" text-anchor="end" font-weight="normal" >100</text>
<text x="93.9" y="699.4" font-size="13.9" text-anchor="middle" font-weight="normal" >0</text>
<text x="133.4" y="699.4" font-size="13.9" text-anchor="middle" font-weight="normal" >0.03</text>
<text x="168.4" y="699.4" font-size="13.9" text-anchor="middle" font-weight="normal" >0.1</text>
<text x="204.9" y="699.4" font-size="13.9" text-anchor="middle" font-weight="normal" >0.3</text>
<text x="238.8" y="699.4" font-size="13.9" text-anchor="middle" font-weight="normal" >1</text>
<text x="276.4" y="699.4" font-size="13.9" text-anchor="middle" font-weight="normal" >3</text>
<text x="313.9" y="699.4" font-size="13.9" text-anchor="middle" font-weight="normal" >10</text>
<text x="210" y="719.4" font-size="13.9" text-anchor="middle" font-weight="normal" >43H12 (µg/sample)</text>
<text transform="translate(35.8,612) rotate(-90)" font-size="13.9" text-anchor="middle">Stained cells (%)</text>
</g>
<path d="M93.1,550.1L129.6,548.9L166.2,548.9L202.7,548.9L239.2,548.9L275.8,548.9L312.3,548.9" fill="none" stroke="#000" stroke-width="1.5" stroke-linejoin="round"/>
<path d="M93.1,558.2L129.6,566.3L166.2,631.0L202.7,668.3L239.2,668.8L275.8,669.5L312.3,667.6" fill="none" stroke="#000" stroke-width="1.5" stroke-linejoin="round"/>
<circle cx="93.1" cy="550.1" r="5.2" fill="#000"/>
<circle cx="129.6" cy="548.9" r="5.2" fill="#000"/>
<circle cx="166.2" cy="548.9" r="5.2" fill="#000"/>
<circle cx="202.7" cy="548.9" r="5.2" fill="#000"/>
<circle cx="239.2" cy="548.9" r="5.2" fill="#000"/>
<circle cx="275.8" cy="548.9" r="5.2" fill="#000"/>
<circle cx="312.3" cy="548.9" r="5.2" fill="#000"/>
<circle cx="93.1" cy="558.2" r="3.9" fill="#fff" stroke="#000" stroke-width="1.5"/>
<circle cx="129.6" cy="566.3" r="3.9" fill="#fff" stroke="#000" stroke-width="1.5"/>
<circle cx="166.2" cy="631.0" r="3.9" fill="#fff" stroke="#000" stroke-width="1.5"/>
<circle cx="202.7" cy="668.3" r="3.9" fill="#fff" stroke="#000" stroke-width="1.5"/>
<circle cx="239.2" cy="668.8" r="3.9" fill="#fff" stroke="#000" stroke-width="1.5"/>
<circle cx="275.8" cy="669.5" r="3.9" fill="#fff" stroke="#000" stroke-width="1.5"/>
<circle cx="312.3" cy="667.6" r="3.9" fill="#fff" stroke="#000" stroke-width="1.5"/>
</svg></body></html>
